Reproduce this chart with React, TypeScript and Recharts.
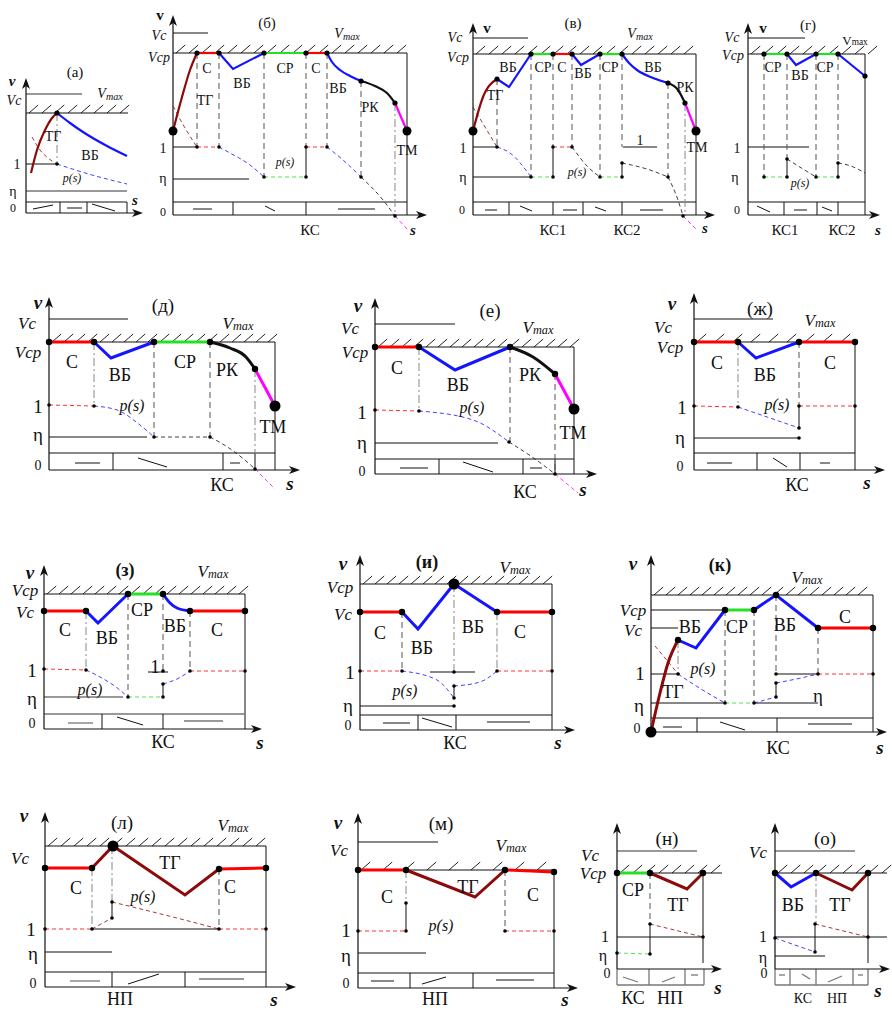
import React from 'react';
import { ComposedChart, Line, XAxis, YAxis, ReferenceLine, ReferenceDot, ReferenceArea } from 'recharts';

type Pt = [number, number];
type Seg = { c: string; p: Pt[]; s?: boolean };
type Guide = [number, number, number, number, string];
type Dot = [number, number, number]; // x, v, kind: 0 p(s) node, 1 speed node, 2 terminal
type Txt = [number, number, string, string];

const RED = '#ff0000';
const BLUE = '#1414ff';
const GREEN = '#26e026';
const DRED = '#8c0a0a';
const BLACK = '#111111';
const MAG = '#ff00ff';

// ---------- (а)
const aSpeed: Seg[] = [
  { c: DRED, p: [[5, 40], [11, 63], [19, 83], [26, 95], [31, 100]], s: true },
  { c: BLUE, p: [[31, 100], [44, 90], [57, 81], [81, 67], [101, 57]], s: true },
];
const aPs: Seg[] = [
  { c: DRED, p: [[6, 76], [14, 63], [22, 55], [31, 49]], s: true },
  { c: BLUE, p: [[31, 49], [66, 38], [101, 29]], s: true },
];
const aGuides: Guide[] = [
  [0, 119, 56, 119, 'g'], [0, 100, 102, 100, 'k'], [0, 49, 31, 49, 'k'], [0, 22, 101, 22, 'g'],
  [0, 11, 101, 11, 'k'], [34, 0, 34, 11, 'k'], [61, 0, 61, 11, 'k'], [101, 0, 101, 11, 'k'],
  [7, 4, 27, 8, 'k'], [41, 5, 56, 5, 'k'], [66, 9, 89, 2, 'k'],
  [31, 100, 31, 49, 'dd'],
];
const aDots: Dot[] = [[31, 100, 1], [31, 49, 0]];
const aText: Txt[] = [
  [-14, 132, 'v', 'ax'], [49, 141, '(а)', 'ttl'], [-12, 113, 'Vс', 'lv'], [84, 120, 'Vmax', 'vmax'],
  [27, 77, 'ТГ', 'seg'], [64, 58, 'ВБ', 'seg'], [-9, 49, '1', 'num'], [46, 35, 'p(s)', 'ps'],
  [-13, 22, 'η', 'num'], [-13, 5, '0', 'zero'], [109, 13, 's', 'ax'],
];

// ---------- (б)
const bSpeed: Seg[] = [
  { c: DRED, p: [[0, 84], [9, 118], [17, 145], [24, 162]], s: true },
  { c: RED, p: [[24, 162], [46, 162]] },
  { c: BLUE, p: [[46, 162], [60, 146], [91, 162]] },
  { c: GREEN, p: [[91, 162], [133, 162]] },
  { c: RED, p: [[133, 162], [154, 162]] },
  { c: BLUE, p: [[154, 162], [159, 153], [167, 145], [177, 139], [188, 134]], s: true },
  { c: BLACK, p: [[188, 134], [202, 129], [214, 122], [222, 112]], s: true },
  { c: MAG, p: [[222, 112], [234, 84]] },
];
const bPs: Seg[] = [
  { c: DRED, p: [[0, 109], [12, 87], [24, 68]], s: true },
  { c: RED, p: [[24, 68], [46, 68]] },
  { c: BLUE, p: [[46, 68], [57, 62], [77, 50], [91, 38]], s: true },
  { c: GREEN, p: [[91, 38], [133, 38]] },
  { c: RED, p: [[133, 68], [154, 68]] },
  { c: BLUE, p: [[154, 68], [170, 55], [188, 38]], s: true },
  { c: BLACK, p: [[188, 38], [210, 15], [222, -1]], s: true },
  { c: MAG, p: [[222, -1], [235, -15]] },
];
const bGuides: Guide[] = [
  [0, 182, 35, 182, 'k'], [0, 162, 234, 162, 'k'], [234, 0, 234, 162, 'k'],
  [0, 68, 24, 68, 'k'], [0, 36, 76, 36, 'k'],
  [0, 13, 234, 13, 'k'], [60, 0, 60, 13, 'k'], [133, 0, 133, 13, 'k'],
  [20, 6, 39, 6, 'k'], [92, 9, 102, 4, 'k'], [165, 6, 202, 6, 'k'],
  [133, 38, 133, 68, 'k'],
  [24, 162, 24, 68, 'd'], [46, 162, 46, 68, 'd'], [91, 162, 91, 38, 'd'], [133, 162, 133, 68, 'd'],
  [154, 162, 154, 68, 'd'], [188, 134, 188, 38, 'd'], [222, 112, 222, -1, 'dd'],
];
const bDots: Dot[] = [
  [0, 84, 2], [24, 162, 1], [46, 162, 1], [91, 162, 1], [133, 162, 1], [154, 162, 1], [188, 134, 1], [222, 112, 1], [234, 84, 2],
  [24, 68, 0], [46, 68, 0], [91, 38, 0], [133, 38, 0], [133, 68, 0], [154, 68, 0], [188, 38, 0], [222, -1, 0],
];
const bText: Txt[] = [
  [-13, 200, 'v', 'vb'], [94, 192, '(б)', 'ttl'], [-14, 180, 'Vс', 'lv'], [-14, 158, 'Vср', 'lv'], [174, 182, 'Vmax', 'vmax'],
  [32, 115, 'ТГ', 'seg'], [34, 147, 'С', 'seg'], [69, 132, 'ВБ', 'seg'], [112, 147, 'СР', 'seg'], [143, 147, 'С', 'seg'],
  [165, 127, 'ВБ', 'seg'], [197, 108, 'РК', 'seg'], [234, 65, 'ТМ', 'seg'],
  [112, 53, 'p(s)', 'ps'], [-10, 67, '1', 'num'], [-10, 37, 'η', 'num'], [-10, 3, '0', 'zero'],
  [137, -15, 'КС', 'ks'], [240, -15, 's', 'ax'],
];

// ---------- (в)
const vSpeed: Seg[] = [
  { c: DRED, p: [[0, 84], [10, 118], [24, 136]], s: true },
  { c: BLUE, p: [[24, 136], [36, 128], [58, 161]] },
  { c: GREEN, p: [[58, 161], [80, 161]] },
  { c: RED, p: [[80, 161], [99, 161]] },
  { c: BLUE, p: [[99, 161], [108, 150], [127, 161]] },
  { c: GREEN, p: [[127, 161], [149, 161]] },
  { c: BLUE, p: [[149, 161], [156, 152], [164, 145], [180, 137], [195, 132]], s: true },
  { c: BLACK, p: [[195, 132], [205, 125], [212, 112]], s: true },
  { c: MAG, p: [[212, 112], [223, 84]] },
];
const vPs: Seg[] = [
  { c: DRED, p: [[0, 108], [12, 88], [24, 68]], s: true },
  { c: BLUE, p: [[24, 68], [37, 62], [58, 38]], s: true },
  { c: GREEN, p: [[58, 38], [80, 38]] },
  { c: RED, p: [[80, 68], [99, 68]] },
  { c: BLACK, p: [[99, 68], [115, 48], [127, 38]], s: true },
  { c: GREEN, p: [[127, 38], [149, 38]] },
  { c: BLACK, p: [[149, 52], [177, 45], [195, 38]], s: true },
  { c: BLACK, p: [[195, 38], [205, 15], [210, -1]], s: true },
  { c: MAG, p: [[210, -1], [224, -15]] },
];
const vGuides: Guide[] = [
  [0, 177, 55, 177, 'k'], [0, 161, 223, 161, 'k'], [223, 0, 223, 161, 'k'],
  [0, 68, 24, 68, 'k'], [0, 38, 58, 38, 'k'], [150, 68, 184, 68, 'k'],
  [0, 13, 223, 13, 'k'], [36, 0, 36, 13, 'k'], [80, 0, 80, 13, 'k'], [110, 0, 110, 13, 'k'], [149, 0, 149, 13, 'k'],
  [12, 5, 24, 5, 'k'], [47, 9, 59, 4, 'k'], [90, 5, 104, 5, 'k'], [122, 8, 133, 4, 'k'], [167, 5, 190, 5, 'k'],
  [80, 38, 80, 68, 'k'], [149, 38, 149, 52, 'k'],
  [24, 136, 24, 68, 'd'], [58, 161, 58, 38, 'd'], [80, 161, 80, 68, 'd'], [99, 161, 99, 68, 'd'],
  [127, 161, 127, 38, 'd'], [149, 161, 149, 68, 'd'], [195, 132, 195, 38, 'd'], [212, 112, 212, -1, 'dd'],
];
const vDots: Dot[] = [
  [0, 84, 2], [24, 136, 1], [58, 161, 1], [80, 161, 1], [99, 161, 1], [127, 161, 1], [149, 161, 1], [195, 132, 1], [212, 112, 1], [223, 84, 2],
  [24, 68, 0], [58, 38, 0], [80, 38, 0], [80, 68, 0], [99, 68, 0], [127, 38, 0], [149, 38, 0], [149, 52, 0], [195, 38, 0], [210, -1, 0],
];
const vText: Txt[] = [
  [14, 187, 'v', 'vb'], [100, 192, '(в)', 'ttl'], [-18, 178, 'Vс', 'lv'], [-15, 158, 'Vср', 'lv'], [167, 182, 'Vmax', 'vmax'],
  [22, 120, 'ТГ', 'seg'], [35, 148, 'ВБ', 'seg'], [70, 148, 'СР', 'seg'], [89, 148, 'С', 'seg'], [110, 142, 'ВБ', 'seg'],
  [137, 148, 'СР', 'seg'], [180, 148, 'ВБ', 'seg'], [212, 128, 'РК', 'seg'], [224, 68, 'ТМ', 'seg'],
  [167, 75, '1', 'num'], [104, 43, 'p(s)', 'ps'], [-10, 67, '1', 'num'], [-10, 38, 'η', 'num'], [-11, 5, '0', 'zero'],
  [80, -15, 'КС1', 'ks'], [154, -15, 'КС2', 'ks'], [232, -13, 's', 'ax'],
];

// ---------- (г)
const gSpeed: Seg[] = [
  { c: GREEN, p: [[16, 161], [39, 161]] },
  { c: BLUE, p: [[39, 161], [48, 150], [68, 161]] },
  { c: GREEN, p: [[68, 161], [90, 161]] },
  { c: BLUE, p: [[90, 161], [117, 139]] },
];
const gPs: Seg[] = [
  { c: GREEN, p: [[16, 38], [39, 38]] },
  { c: BLACK, p: [[39, 56], [55, 46], [68, 38]], s: true },
  { c: GREEN, p: [[68, 38], [90, 38]] },
  { c: BLACK, p: [[90, 52], [103, 49], [117, 42]], s: true },
];
const gGuides: Guide[] = [
  [0, 177, 57, 177, 'k'], [0, 161, 117, 161, 'k'], [117, 0, 117, 161, 'k'],
  [0, 68, 61, 68, 'k'],
  [0, 13, 117, 13, 'k'], [36, 0, 36, 13, 'k'], [69, 0, 69, 13, 'k'], [90, 0, 90, 13, 'k'],
  [9, 9, 22, 3, 'k'], [46, 5, 59, 5, 'k'], [74, 8, 84, 4, 'k'],
  [39, 38, 39, 56, 'k'], [90, 38, 90, 52, 'k'],
  [16, 161, 16, 38, 'd'], [39, 161, 39, 56, 'd'], [68, 161, 68, 38, 'd'], [90, 161, 90, 52, 'd'],
];
const gDots: Dot[] = [
  [16, 161, 1], [39, 161, 1], [68, 161, 1], [90, 161, 1], [117, 139, 1],
  [16, 38, 0], [39, 38, 0], [39, 56, 0], [68, 38, 0], [90, 38, 0], [90, 52, 0],
];
const gText: Txt[] = [
  [15, 187, 'v', 'vb'], [60, 190, '(г)', 'ttl'], [-16, 178, 'Vс', 'lv'], [-15, 160, 'Vср', 'lv'], [107, 175, 'Vmax', 'vmaxu'],
  [25, 148, 'СР', 'seg'], [52, 140, 'ВБ', 'seg'], [77, 148, 'СР', 'seg'], [52, 32, 'p(s)', 'ps'],
  [-11, 67, '1', 'num'], [-13, 38, 'η', 'num'], [-11, 5, '0', 'zero'],
  [37, -15, 'КС1', 'ks'], [94, -15, 'КС2', 'ks'], [130, -15, 's', 'ax'],
];

// ---------- (д)
const dSpeed: Seg[] = [
  { c: RED, p: [[0, 128], [45, 128]] },
  { c: BLUE, p: [[45, 128], [62, 112], [105, 128]] },
  { c: GREEN, p: [[105, 128], [161, 128]] },
  { c: BLACK, p: [[161, 128], [181, 122], [197, 113], [206, 101]], s: true },
  { c: MAG, p: [[206, 101], [226, 64]] },
];
const dPs: Seg[] = [
  { c: RED, p: [[0, 65], [45, 64]] },
  { c: BLUE, p: [[45, 64], [68, 60], [91, 45], [105, 33]], s: true },
  { c: BLACK, p: [[105, 33], [161, 33]] },
  { c: BLACK, p: [[161, 33], [180, 22], [197, 9], [206, 1]], s: true },
  { c: MAG, p: [[206, 1], [226, -19]] },
];
const dGuides: Guide[] = [
  [0, 151, 79, 151, 'k'], [0, 128, 226, 128, 'k'], [226, 0, 226, 128, 'k'],
  [0, 33, 98, 33, 'k'],
  [0, 17, 226, 17, 'k'], [64, 0, 64, 17, 'k'], [174, 0, 174, 17, 'k'], [206, 0, 206, 17, 'k'],
  [26, 7, 51, 7, 'k'], [89, 12, 118, 3, 'k'], [181, 7, 191, 7, 'k'],
  [45, 128, 45, 64, 'dd'], [105, 128, 105, 33, 'd'], [161, 128, 161, 33, 'd'], [206, 101, 206, 1, 'dd'],
];
const dDots: Dot[] = [
  [0, 128, 1], [45, 128, 1], [105, 128, 1], [161, 128, 1], [206, 101, 1], [226, 64, 2],
  [0, 65, 0], [45, 64, 0], [105, 33, 0], [161, 33, 0], [206, 1, 0],
];
const dText: Txt[] = [
  [-11, 168, 'v', 'ax'], [114, 165, '(д)', 'ttl'], [-22, 147, 'Vс', 'lv'], [-21, 118, 'Vср', 'lv'], [189, 147, 'Vmax', 'vmax'],
  [23, 108, 'С', 'seg'], [71, 95, 'ВБ', 'seg'], [136, 108, 'СР', 'seg'], [178, 100, 'РК', 'seg'], [224, 43, 'ТМ', 'seg'],
  [83, 65, 'p(s)', 'ps'], [-11, 64, '1', 'num'], [-11, 36, 'η', 'num'], [-11, 5, '0', 'zero'],
  [173, -15, 'КС', 'ks'], [241, -13, 's', 'ax'],
];

// ---------- (е)
const eSpeed: Seg[] = [
  { c: RED, p: [[0, 127], [44, 127]] },
  { c: BLUE, p: [[44, 127], [80, 104], [135, 127]] },
  { c: BLACK, p: [[135, 127], [158, 117], [180, 100]], s: true },
  { c: MAG, p: [[180, 100], [199, 65]] },
];
const ePs: Seg[] = [
  { c: RED, p: [[0, 64], [44, 63]] },
  { c: BLUE, p: [[44, 63], [98, 54], [134, 32]], s: true },
  { c: BLACK, p: [[134, 32], [160, 15], [180, 0]], s: true },
  { c: MAG, p: [[180, 0], [203, -19]] },
];
const eGuides: Guide[] = [
  [0, 150, 80, 150, 'k'], [0, 127, 199, 127, 'k'], [199, 0, 199, 127, 'k'],
  [0, 31, 123, 31, 'k'],
  [0, 15, 199, 15, 'k'], [64, 0, 64, 15, 'k'], [148, 0, 148, 15, 'k'], [180, 0, 180, 15, 'k'],
  [25, 6, 53, 6, 'k'], [88, 12, 118, 2, 'k'], [155, 6, 167, 6, 'k'],
  [44, 127, 44, 63, 'dd'], [135, 127, 135, 32, 'd'], [180, 100, 180, 0, 'd'],
];
const eDots: Dot[] = [
  [0, 127, 1], [44, 127, 1], [135, 127, 1], [180, 100, 1], [199, 65, 2],
  [0, 64, 0], [44, 63, 0], [134, 32, 0], [180, 0, 0],
];
const eText: Txt[] = [
  [-17, 169, 'v', 'ax'], [115, 164, '(е)', 'ttl'], [-25, 146, 'Vс', 'lv'], [-20, 122, 'Vср', 'lv'], [163, 147, 'Vmax', 'vmax'],
  [22, 106, 'С', 'seg'], [83, 89, 'ВБ', 'seg'], [155, 99, 'РК', 'seg'], [198, 41, 'ТМ', 'seg'],
  [97, 67, 'p(s)', 'ps'], [-13, 62, '1', 'num'], [-13, 32, 'η', 'num'], [-13, 3, '0', 'zero'],
  [150, -18, 'КС', 'ks'], [208, -15, 's', 'ax'],
];

// ---------- (ж)
const zhSpeed: Seg[] = [
  { c: RED, p: [[0, 128], [44, 128]] },
  { c: BLUE, p: [[44, 128], [62, 112], [105, 128]] },
  { c: RED, p: [[105, 128], [161, 128]] },
];
const zhPs: Seg[] = [
  { c: RED, p: [[0, 64], [44, 63]] },
  { c: BLUE, p: [[44, 63], [105, 42]] },
  { c: RED, p: [[105, 64], [161, 64]] },
];
const zhGuides: Guide[] = [
  [0, 151, 79, 151, 'k'], [0, 128, 161, 128, 'k'], [161, 0, 161, 128, 'k'],
  [0, 32, 105, 32, 'k'],
  [0, 17, 161, 17, 'k'], [63, 0, 63, 17, 'k'], [106, 0, 106, 17, 'k'],
  [13, 7, 38, 7, 'k'], [79, 12, 93, 3, 'k'], [126, 7, 136, 7, 'k'],
  [105, 42, 105, 64, 'k'],
  [44, 128, 44, 63, 'dd'], [105, 128, 105, 64, 'd'],
];
const zhDots: Dot[] = [
  [0, 128, 1], [44, 128, 1], [105, 128, 1], [161, 128, 1],
  [0, 64, 0], [44, 63, 0], [105, 42, 0], [105, 64, 0], [105, 32, 0], [161, 64, 0],
];
const zhText: Txt[] = [
  [-22, 167, 'v', 'ax'], [66, 162, '(ж)', 'ttl'], [-31, 143, 'Vс', 'lv'], [-24, 123, 'Vср', 'lv'], [126, 150, 'Vmax', 'vmax'],
  [23, 107, 'С', 'seg'], [71, 95, 'ВБ', 'seg'], [136, 107, 'С', 'seg'],
  [83, 66, 'p(s)', 'ps'], [-12, 63, '1', 'num'], [-14, 33, 'η', 'num'], [-14, 4, '0', 'zero'],
  [103, -15, 'КС', 'ks'], [173, -12, 's', 'ax'],
];

// ---------- (з)
const zSpeed: Seg[] = [
  { c: RED, p: [[0, 118], [42, 118]] },
  { c: BLUE, p: [[42, 118], [54, 106], [84, 135]] },
  { c: GREEN, p: [[84, 135], [119, 135]] },
  { c: BLUE, p: [[119, 135], [126, 126], [133, 121], [146, 118]], s: true },
  { c: RED, p: [[146, 118], [201, 118]] },
];
const zPs: Seg[] = [
  { c: RED, p: [[0, 60], [42, 59]] },
  { c: BLUE, p: [[42, 59], [56, 52], [72, 42], [84, 32]], s: true },
  { c: GREEN, p: [[84, 32], [119, 32]] },
  { c: BLUE, p: [[119, 45], [135, 51], [146, 58]], s: true },
  { c: RED, p: [[146, 58], [201, 58]] },
];
const zGuides: Guide[] = [
  [0, 135, 201, 135, 'k'], [201, 0, 201, 135, 'k'],
  [0, 32, 79, 32, 'g'], [104, 57, 124, 57, 'k'],
  [0, 15, 201, 15, 'g'], [58, 0, 58, 15, 'k'], [119, 0, 119, 15, 'k'],
  [24, 6, 49, 6, 'g'], [73, 12, 99, 4, 'k'], [140, 8, 179, 8, 'g'],
  [119, 32, 119, 45, 'k'],
  [42, 118, 42, 59, 'dd'], [84, 135, 84, 32, 'd'], [119, 135, 119, 58, 'd'], [146, 118, 146, 58, 'd'],
];
const zDots: Dot[] = [
  [0, 118, 1], [42, 118, 1], [84, 135, 1], [119, 135, 1], [146, 118, 1], [201, 118, 1],
  [0, 60, 0], [42, 59, 0], [84, 32, 0], [119, 32, 0], [119, 45, 0], [119, 58, 0], [146, 58, 0], [201, 58, 0],
];
const zText: Txt[] = [
  [-14, 157, 'v', 'ax'], [81, 159, '(з)', 'ttlb'], [-19, 139, 'Vср', 'lv'], [-19, 117, 'Vс', 'lv'], [169, 158, 'Vmax', 'vmax'],
  [21, 99, 'С', 'seg'], [63, 91, 'ВБ', 'seg'], [98, 119, 'СР', 'seg'], [131, 103, 'ВБ', 'seg'], [173, 99, 'С', 'seg'],
  [111, 63, '1', 'num'], [46, 40, 'p(s)', 'ps'], [-12, 59, '1', 'num'], [-12, 31, 'η', 'num'], [-12, 6, '0', 'zero'],
  [119, -13, 'КС', 'ks'], [216, -13, 's', 'ax'],
];

// ---------- (и)
const iSpeed: Seg[] = [
  { c: RED, p: [[0, 118], [42, 118]] },
  { c: BLUE, p: [[42, 118], [58, 101], [94, 146]] },
  { c: BLUE, p: [[94, 146], [137, 118]] },
  { c: RED, p: [[137, 118], [192, 118]] },
];
const iPs: Seg[] = [
  { c: RED, p: [[0, 59], [42, 59]] },
  { c: BLUE, p: [[42, 59], [77, 50], [94, 32]], s: true },
  { c: BLUE, p: [[94, 44], [120, 48], [137, 59]], s: true },
  { c: RED, p: [[137, 59], [192, 59]] },
];
const iGuides: Guide[] = [
  [0, 146, 192, 146, 'k'], [192, 0, 192, 146, 'k'],
  [0, 24, 94, 24, 'k'], [70, 58, 115, 58, 'k'],
  [0, 15, 192, 15, 'k'], [58, 0, 58, 15, 'k'], [96, 0, 96, 15, 'k'],
  [23, 7, 50, 7, 'k'], [62, 12, 92, 3, 'k'], [127, 8, 170, 8, 'k'],
  [94, 32, 94, 44, 'k'],
  [42, 118, 42, 59, 'd'], [94, 146, 94, 59, 'dd'], [137, 118, 137, 59, 'dd'],
];
const iDots: Dot[] = [
  [0, 118, 1], [42, 118, 1], [94, 146, 2], [137, 118, 1], [192, 118, 1],
  [0, 59, 0], [42, 59, 0], [94, 32, 0], [94, 44, 0], [94, 58, 0], [94, 24, 0], [137, 59, 0], [192, 59, 0],
];
const iText: Txt[] = [
  [-17, 167, 'v', 'ax'], [67, 168, '(и)', 'ttlb'], [-20, 143, 'Vср', 'lv'], [-17, 116, 'Vс', 'lv'], [155, 163, 'Vmax', 'vmax'],
  [20, 97, 'С', 'seg'], [62, 82, 'ВБ', 'seg'], [113, 103, 'ВБ', 'seg'], [160, 98, 'С', 'seg'],
  [45, 40, 'p(s)', 'ps'], [-10, 58, '1', 'num'], [-12, 25, 'η', 'num'], [-12, 5, '0', 'zero'],
  [95, -13, 'КС', 'ks'], [198, -12, 's', 'ax'],
];

// ---------- (к)
const kSpeed: Seg[] = [
  { c: DRED, p: [[0, 0], [9, 39], [17, 69], [27, 92]], s: true },
  { c: BLUE, p: [[27, 92], [45, 84], [74, 122]] },
  { c: GREEN, p: [[74, 122], [103, 122]] },
  { c: BLUE, p: [[103, 122], [125, 137], [167, 104]] },
  { c: RED, p: [[167, 104], [222, 104]] },
];
const kPs: Seg[] = [
  { c: DRED, p: [[4, 86], [14, 74], [27, 58]], s: true },
  { c: BLUE, p: [[27, 58], [50, 43], [74, 29]], s: true },
  { c: GREEN, p: [[74, 29], [103, 29]] },
  { c: BLUE, p: [[103, 29], [125, 35]] },
  { c: BLUE, p: [[125, 49], [150, 54], [167, 58]], s: true },
  { c: RED, p: [[167, 58], [222, 58]] },
];
const kGuides: Guide[] = [
  [0, 137, 222, 137, 'k'], [222, 0, 222, 137, 'k'],
  [0, 122, 74, 122, 'k'], [0, 104, 27, 104, 'k'], [0, 58, 29, 58, 'k'], [125, 58, 167, 58, 'k'],
  [0, 29, 74, 29, 'k'], [103, 29, 167, 29, 'k'],
  [0, 14, 222, 14, 'k'], [46, 0, 46, 14, 'k'], [126, 0, 126, 14, 'k'],
  [12, 5, 31, 5, 'k'], [69, 10, 94, 2, 'k'], [157, 8, 201, 8, 'k'],
  [125, 35, 125, 49, 'k'],
  [27, 92, 27, 58, 'dd'], [74, 122, 74, 29, 'd'], [103, 122, 103, 29, 'd'], [125, 137, 125, 58, 'd'], [167, 104, 167, 58, 'd'],
];
const kDots: Dot[] = [
  [0, 0, 2], [27, 92, 1], [74, 122, 1], [103, 122, 1], [125, 137, 1], [167, 104, 1], [222, 104, 1],
  [27, 58, 0], [74, 29, 0], [103, 29, 0], [125, 35, 0], [125, 49, 0], [125, 58, 0], [167, 58, 0], [222, 58, 0],
];
const kText: Txt[] = [
  [-18, 169, 'v', 'ax'], [69, 167, '(к)', 'ttlb'], [-18, 122, 'Vср', 'lv'], [-18, 102, 'Vс', 'lv'], [156, 155, 'Vmax', 'vmax'],
  [39, 105, 'ВБ', 'seg'], [86, 105, 'СР', 'seg'], [134, 107, 'ВБ', 'seg'], [194, 115, 'С', 'seg'], [22, 40, 'ТГ', 'seg'],
  [52, 64, 'p(s)', 'ps'], [-11, 59, '1', 'num'], [-12, 27, 'η', 'num'], [167, 37, 'η', 'num'], [-14, 4, '0', 'zero'],
  [127, -16, 'КС', 'ks'], [229, -15, 's', 'ax'],
];

// ---------- (л)
const lSpeed: Seg[] = [
  { c: RED, p: [[0, 119], [47, 119]] },
  { c: DRED, p: [[47, 119], [68, 141], [140, 92], [174, 118]] },
  { c: RED, p: [[174, 118], [221, 119]] },
];
const lPs: Seg[] = [
  { c: RED, p: [[0, 58], [47, 58]] },
  { c: DRED, p: [[47, 58], [67, 69]] },
  { c: DRED, p: [[67, 85], [120, 72], [174, 58]], s: true },
  { c: RED, p: [[174, 58], [221, 58]] },
];
const lGuides: Guide[] = [
  [0, 141, 221, 141, 'k'], [221, 0, 221, 141, 'k'],
  [47, 58, 174, 58, 'k'], [0, 35, 67, 35, 'k'],
  [0, 15, 221, 15, 'k'], [67, 0, 67, 15, 'k'], [140, 0, 140, 15, 'k'],
  [25, 6, 55, 6, 'g'], [83, 3, 114, 13, 'k'], [154, 8, 199, 8, 'g'],
  [67, 69, 67, 85, 'k'],
  [47, 119, 47, 58, 'dd'], [67, 141, 67, 85, 'dd'], [174, 118, 174, 58, 'd'],
];
const lDots: Dot[] = [
  [0, 119, 1], [47, 119, 1], [68, 141, 2], [174, 118, 1], [221, 119, 1],
  [0, 58, 0], [47, 58, 0], [67, 69, 0], [67, 85, 0], [174, 58, 0], [221, 58, 0],
];
const lText: Txt[] = [
  [-21, 172, 'v', 'ax'], [77, 165, '(л)', 'ttl'], [-25, 129, 'Vс', 'lv'], [188, 162, 'Vmax', 'vmax'],
  [31, 99, 'С', 'seg'], [125, 124, 'ТГ', 'seg'], [185, 100, 'С', 'seg'], [98, 91, 'p(s)', 'ps'],
  [-14, 58, '1', 'num'], [-12, 34, 'η', 'num'], [-12, 4, '0', 'zero'],
  [75, -12, 'НП', 'ks'], [229, -12, 's', 'ax'],
];

// ---------- (м)
const mSpeed: Seg[] = [
  { c: RED, p: [[0, 118], [48, 118]] },
  { c: DRED, p: [[48, 118], [117, 91], [147, 118]] },
  { c: RED, p: [[147, 118], [196, 116]] },
];
const mPs: Seg[] = [
  { c: RED, p: [[0, 57], [48, 57]] },
  { c: RED, p: [[147, 57], [196, 57]] },
];
const mGuides: Guide[] = [
  [0, 146, 80, 146, 'k'], [0, 118, 196, 118, 'k'], [196, 0, 196, 118, 'k'],
  [0, 35, 68, 35, 'k'],
  [0, 15, 196, 15, 'k'], [52, 0, 52, 15, 'k'], [115, 0, 115, 15, 'k'],
  [13, 7, 36, 7, 'k'], [64, 4, 88, 11, 'k'], [138, 8, 176, 8, 'k'],
  [48, 57, 48, 85, 'k'],
  [48, 118, 48, 85, 'dd'], [147, 118, 147, 57, 'd'],
];
const mDots: Dot[] = [
  [0, 118, 1], [48, 118, 1], [147, 118, 1], [196, 116, 1],
  [0, 57, 0], [48, 57, 0], [48, 85, 0], [147, 57, 0], [196, 57, 0],
];
const mText: Txt[] = [
  [-20, 166, 'v', 'ax'], [83, 165, '(м)', 'ttl'], [-19, 138, 'Vс', 'lv'], [153, 143, 'Vmax', 'vmax'],
  [29, 91, 'С', 'seg'], [110, 101, 'ТГ', 'seg'], [175, 93, 'С', 'seg'], [83, 63, 'p(s)', 'ps'],
  [-12, 58, '1', 'num'], [-12, 33, 'η', 'num'], [-12, 5, '0', 'zero'],
  [77, -11, 'НП', 'ks'], [207, -11, 's', 'ax'],
];

// ---------- (н)
const nSpeed: Seg[] = [
  { c: GREEN, p: [[0, 96], [33, 96]] },
  { c: DRED, p: [[33, 96], [70, 80], [86, 96]] },
];
const nPs: Seg[] = [
  { c: GREEN, p: [[0, 16], [33, 15]] },
  { c: DRED, p: [[33, 45], [86, 32]] },
];
const nGuides: Guide[] = [
  [0, 118, 80, 118, 'g'], [0, 96, 105, 96, 'k'], [86, 6, 86, 96, 'k'],
  [0, 32, 87, 32, 'k'],
  [0, -16, 87, -16, 'g'], [0, -16, 0, 0, 'g'], [32, -16, 32, 0, 'g'], [68, -16, 68, 0, 'g'], [87, -16, 87, 0, 'g'],
  [6, -8, 21, -13, 'g'], [45, -13, 58, -8, 'g'], [74, -6, 81, -6, 'g'],
  [33, 15, 33, 45, 'k'],
  [33, 96, 33, 45, 'd'],
];
const nDots: Dot[] = [
  [0, 96, 1], [33, 96, 1], [86, 96, 1],
  [0, 16, 0], [33, 15, 0], [33, 45, 0], [86, 32, 0],
];
const nText: Txt[] = [
  [50, 131, '(н)', 'ttl'], [-27, 114, 'Vс', 'lv'], [-24, 96, 'Vср', 'lv'],
  [16, 79, 'СР', 'seg'], [61, 64, 'ТГ', 'seg'],
  [-12, 33, '1', 'nums'], [-14, 14, 'η', 'nums'], [-10, -4, '0', 'zero'],
  [16, -29, 'КС', 'ks'], [53, -29, 'НП', 'ks'], [101, -18, 's', 'ax'],
];

// ---------- (о)
const oSpeed: Seg[] = [
  { c: BLUE, p: [[0, 96], [16, 82], [41, 96]] },
  { c: DRED, p: [[41, 96], [77, 79], [93, 96]] },
];
const oPs: Seg[] = [
  { c: BLUE, p: [[0, 31], [40, 17]] },
  { c: DRED, p: [[40, 45], [93, 32]] },
];
const oGuides: Guide[] = [
  [0, 118, 80, 118, 'g'], [0, 96, 112, 96, 'k'], [93, 6, 93, 96, 'k'],
  [0, 32, 112, 32, 'k'], [0, 13, 50, 13, 'k'],
  [0, -16, 93, -16, 'g'], [0, -16, 0, 0, 'g'], [15, -16, 15, 0, 'g'], [41, -16, 41, 0, 'g'], [78, -16, 78, 0, 'g'], [93, -16, 93, 0, 'g'],
  [4, -6, 10, -6, 'g'], [27, -5, 35, -10, 'g'], [53, -13, 67, -7, 'g'], [83, -6, 88, -6, 'g'],
  [40, 17, 40, 45, 'k'],
  [41, 96, 41, 45, 'dd'],
];
const oDots: Dot[] = [
  [0, 96, 1], [41, 96, 1], [93, 96, 1],
  [0, 31, 0], [40, 17, 0], [40, 45, 0], [93, 32, 0],
];
const oText: Txt[] = [
  [50, 131, '(о)', 'ttl'], [-17, 117, 'Vс', 'lv'],
  [18, 64, 'ВБ', 'seg'], [65, 64, 'ТГ', 'seg'],
  [-12, 33, '1', 'nums'], [-12, 12, 'η', 'nums'], [-11, -4, '0', 'zero'],
  [28, -29, 'КС', 'kss'], [62, -29, 'НП', 'kss'], [103, -21, 's', 'ax'],
];

// ---------- styles
const SM: Record<string, number> = { seg: 14, lv: 14, num: 14, nums: 14, zero: 12, ps: 12, ttl: 15, ttlb: 15, ks: 15, kss: 13, ax: 15, vb: 15, vmax: 14, vmaxu: 13 };
const LG: Record<string, number> = { seg: 18, lv: 17, num: 19, nums: 16, zero: 14, ps: 16, ttl: 19, ttlb: 18, ks: 18, kss: 14, ax: 19, vb: 18, vmax: 17, vmaxu: 17 };
const FONT = '"Liberation Serif", "Times New Roman", "DejaVu Serif", serif';

const GUIDE: Record<string, { stroke: string; w: number; dash?: string }> = {
  k: { stroke: '#111', w: 1 },
  g: { stroke: '#777', w: 1.3 },
  d: { stroke: '#555', w: 1, dash: '6 4' },
  dd: { stroke: '#888', w: 1, dash: '8 3 2 3' },
};

type PanelCfg = {
  box: [number, number, number, number];
  o: [number, number];
  vTip: number;
  sEnd: number;
  hatch: [number, number, number, number];
  sz: Record<string, number>;
  lw: number;
  speed: Seg[];
  ps: Seg[];
  guides: Guide[];
  dots: Dot[];
  text: Txt[];
};

const PANELS: PanelCfg[] = [
  { box: [0, 60, 150, 222], o: [26, 213], vTip: 135, sEnd: 117, hatch: [0, 102, 100, 13], sz: SM, lw: 2.2, speed: aSpeed, ps: aPs, guides: aGuides, dots: aDots, text: aText },
  { box: [140, 5, 432, 242], o: [173, 215], vTip: 200, sEnd: 254, hatch: [0, 234, 162, 13], sz: SM, lw: 2.2, speed: bSpeed, ps: bPs, guides: bGuides, dots: bDots, text: bText },
  { box: [440, 5, 720, 242], o: [473, 215], vTip: 192, sEnd: 242, hatch: [0, 223, 161, 13], sz: SM, lw: 2.2, speed: vSpeed, ps: vPs, guides: vGuides, dots: vDots, text: vText },
  { box: [712, 5, 892, 242], o: [748, 215], vTip: 192, sEnd: 132, hatch: [0, 124, 161, 13], sz: SM, lw: 2.2, speed: gSpeed, ps: gPs, guides: gGuides, dots: gDots, text: gText },
  { box: [0, 285, 305, 505], o: [49, 470], vTip: 173, sEnd: 251, hatch: [0, 226, 128, 12], sz: LG, lw: 3, speed: dSpeed, ps: dPs, guides: dGuides, dots: dDots, text: dText },
  { box: [320, 285, 605, 510], o: [375, 474], vTip: 176, sEnd: 222, hatch: [0, 199, 127, 12], sz: LG, lw: 3, speed: eSpeed, ps: ePs, guides: eGuides, dots: eDots, text: eText },
  { box: [640, 285, 892, 505], o: [694, 470], vTip: 177, sEnd: 191, hatch: [0, 161, 128, 18], sz: LG, lw: 3, speed: zhSpeed, ps: zhPs, guides: zhGuides, dots: zhDots, text: zhText },
  { box: [0, 550, 275, 765], o: [44, 729], vTip: 164, sEnd: 218, hatch: [0, 201, 135, 12], sz: LG, lw: 3, speed: zSpeed, ps: zPs, guides: zGuides, dots: zDots, text: zText },
  { box: [300, 545, 590, 765], o: [360, 730], vTip: 175, sEnd: 215, hatch: [0, 192, 146, 12], sz: LG, lw: 3, speed: iSpeed, ps: iPs, guides: iGuides, dots: iDots, text: iText },
  { box: [600, 545, 892, 765], o: [651, 732], vTip: 177, sEnd: 236, hatch: [0, 222, 137, 12], sz: LG, lw: 3, speed: kSpeed, ps: kPs, guides: kGuides, dots: kDots, text: kText },
  { box: [0, 795, 305, 1010], o: [45, 987], vTip: 175, sEnd: 251, hatch: [0, 221, 141, 13], sz: LG, lw: 3, speed: lSpeed, ps: lPs, guides: lGuides, dots: lDots, text: lText },
  { box: [305, 795, 590, 1010], o: [358, 988], vTip: 175, sEnd: 220, hatch: [0, 202, 118, 22], sz: LG, lw: 3, speed: mSpeed, ps: mPs, guides: mGuides, dots: mDots, text: mText },
  { box: [572, 810, 732, 1010], o: [617, 969], vTip: 146, sEnd: 105, hatch: [0, 105, 96, 13], sz: LG, lw: 3, speed: nSpeed, ps: nPs, guides: nGuides, dots: nDots, text: nText },
  { box: [735, 810, 892, 1010], o: [775, 969], vTip: 146, sEnd: 115, hatch: [0, 112, 96, 13], sz: LG, lw: 3, speed: oSpeed, ps: oPs, guides: oGuides, dots: oDots, text: oText },
];

const HATCH_H = 8;

function hatchShape(gap: number) {
  return (p: any) => {
    const { x, y, width, height } = p;
    const out: React.ReactNode[] = [];
    for (let hx = x + 3; hx + height * 1.15 <= x + width + 6; hx += gap) {
      out.push(<line key={hx} x1={hx} y1={y + height} x2={hx + height * 1.15} y2={y} stroke="#222" strokeWidth={1} />);
    }
    return <g>{out}</g>;
  };
}

function TextMark({ cx, cy, s, k, sz }: { cx: number; cy: number; s: string; k: string; sz: Record<string, number> }) {
  const fs = sz[k];
  const italic = k === 'lv' || k === 'ps' || k === 'ax' || k === 'vmax';
  const bold = k === 'ax' || k === 'vb' || k === 'ttlb';
  const style: React.CSSProperties = {
    fontFamily: FONT, fontSize: fs, fontStyle: italic ? 'italic' : 'normal', fontWeight: bold ? 700 : 400,
  };
  const common = { x: cx, y: cy, textAnchor: 'middle' as const, dominantBaseline: 'central' as const, fill: '#111', style };
  if (k === 'vmax' || k === 'vmaxu') {
    return (
      <text {...common}>
        V<tspan style={{ fontSize: fs * 0.72 }} dy={fs * 0.18}>max</tspan>
      </text>
    );
  }
  return <text {...common}>{s}</text>;
}

function Panel({ cfg, idx }: { cfg: PanelCfg; idx: number }) {
  const [l, t, r, b] = cfg.box;
  const [ox, oy] = cfg.o;
  const W = r - l;
  const H = b - t;
  const [hx0, hx1, hy, gap] = cfg.hatch;
  return (
    <div style={{ position: 'absolute', left: l, top: t, width: W, height: H }}>
      <ComposedChart width={W} height={H} margin={{ top: 0, right: 0, bottom: 0, left: 0 }}>
        <XAxis type="number" dataKey="x" domain={[l - ox, r - ox]} hide allowDataOverflow />
        <YAxis type="number" dataKey="y" domain={[oy - b, oy - t]} hide allowDataOverflow />
        <ReferenceArea x1={hx0} x2={hx1} y1={hy} y2={hy + HATCH_H} ifOverflow="visible" shape={hatchShape(gap)} />
        {cfg.guides.map((g, i) => {
          const st = GUIDE[g[4]];
          return (
            <ReferenceLine key={'g' + i} segment={[{ x: g[0], y: g[1] }, { x: g[2], y: g[3] }]}
              stroke={st.stroke} strokeWidth={st.w} strokeDasharray={st.dash} ifOverflow="visible" />
          );
        })}
        <ReferenceLine segment={[{ x: 0, y: 0 }, { x: 0, y: cfg.vTip - 4 }]} stroke="#111" strokeWidth={1.2} ifOverflow="visible" />
        <ReferenceLine segment={[{ x: 0, y: 0 }, { x: cfg.sEnd - 4, y: 0 }]} stroke="#111" strokeWidth={1.2} ifOverflow="visible" />
        <ReferenceDot x={0} y={cfg.vTip} ifOverflow="visible"
          shape={(p: any) => <path d={`M${p.cx},${p.cy} L${p.cx - 4},${p.cy + 11} L${p.cx},${p.cy + 8} L${p.cx + 4},${p.cy + 11} Z`} fill="#111" />} />
        <ReferenceDot x={cfg.sEnd} y={0} ifOverflow="visible"
          shape={(p: any) => <path d={`M${p.cx},${p.cy} L${p.cx - 11},${p.cy - 4} L${p.cx - 8},${p.cy} L${p.cx - 11},${p.cy + 4} Z`} fill="#111" />} />
        {cfg.ps.map((sg, i) => (
          <Line key={'p' + i} data={sg.p.map(([x, y]) => ({ x, y }))} dataKey="y" type={sg.s ? 'monotone' : 'linear'}
            stroke={sg.c} strokeOpacity={0.8} strokeWidth={1} strokeDasharray="4 3" dot={false} activeDot={false}
            isAnimationActive={false} />
        ))}
        {cfg.speed.map((sg, i) => (
          <Line key={'s' + i} data={sg.p.map(([x, y]) => ({ x, y }))} dataKey="y" type={sg.s ? 'monotone' : 'linear'}
            stroke={sg.c} strokeWidth={cfg.lw} dot={false} activeDot={false} isAnimationActive={false} />
        ))}
        {cfg.dots.map((d, i) => {
          const rr = d[2] === 2 ? (cfg.sz === SM ? 4.5 : 5.5) : d[2] === 1 ? (cfg.sz === SM ? 2.6 : 3.2) : 1.8;
          return <ReferenceDot key={'d' + i} x={d[0]} y={d[1]} r={rr} fill="#000" stroke="none" ifOverflow="visible" />;
        })}
        {cfg.text.map((tx, i) => (
          <ReferenceDot key={'t' + i + '-' + idx} x={tx[0]} y={tx[1]} ifOverflow="visible"
            shape={(p: any) => <TextMark cx={p.cx} cy={p.cy} s={tx[2]} k={tx[3]} sz={cfg.sz} />} />
        ))}
      </ComposedChart>
    </div>
  );
}

export default function App() {
  return (
    <div style={{ position: 'absolute', left: 0, top: 0, width: 892, height: 1010, background: '#fff', overflow: 'hidden' }}>
      {PANELS.map((cfg, i) => (
        <Panel key={i} cfg={cfg} idx={i} />
      ))}
    </div>
  );
}
